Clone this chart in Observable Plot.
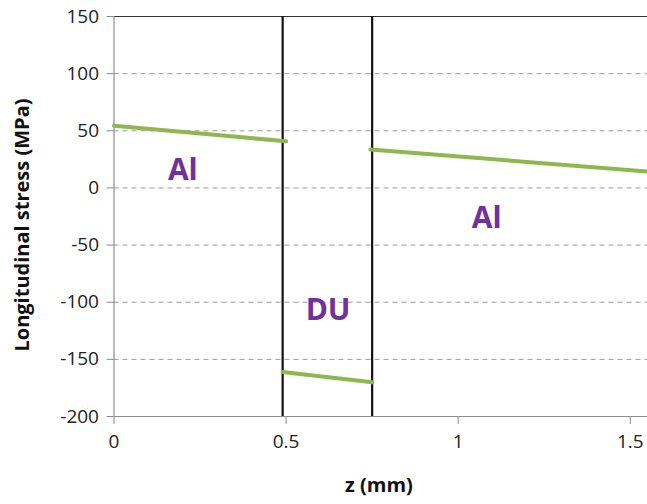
<!DOCTYPE html>
<html>
<head>
<meta charset="utf-8">
<script src="https://cdn.jsdelivr.net/npm/d3@7"></script>
<script src="https://cdn.jsdelivr.net/npm/@observablehq/plot@0.6"></script>
<style>
  html, body { margin: 0; padding: 0; background: #fff; }
  #chart svg { display: block; font-family: "Open Sans", sans-serif; }
  #chart svg [aria-label="y-axis tick"], #chart svg [aria-label="x-axis tick"] { stroke: #8c8c8c; }
</style>
</head>
<body>
<div id="chart"></div>
<script>
// Longitudinal stress through an Al / DU / Al stack, along z (mm)
const al1Z = [0, 0.5];
const al1Stress = [54.5, 40.8];
const duZ = [0.49, 0.75];
const duStress = [-161, -170];
const al2Z = [0.745, 1.55];
const al2Stress = [33.6, 14.4];

// Interfaces between layers
const interfaces = [0.49, 0.75];

// Axis ticks
const yTicks = [150, 100, 50, 0, -50, -100, -150, -200];
const xTicks = [0, 0.5, 1, 1.5];
const xTickLabels = ["0", "0.5", "1", "1.5"];

// Layer names
const layerNames = ["Al", "DU", "Al"];
const layerZ = [0.2, 0.622, 1.083];
const layerStress = [15, -107, -27];

const segments = [
  ...al1Z.map((z, i) => ({z, stress: al1Stress[i], seg: "Al-1"})),
  ...duZ.map((z, i) => ({z, stress: duStress[i], seg: "DU"})),
  ...al2Z.map((z, i) => ({z, stress: al2Stress[i], seg: "Al-2"}))
];
const labels = layerNames.map((name, i) => ({name, z: layerZ[i], stress: layerStress[i]}));
const gridVals = yTicks.filter(v => v !== 150 && v !== -200);

const chart = Plot.plot({
  width: 647,
  height: 504,
  marginLeft: 113.5,
  marginRight: 0,
  marginTop: 16,
  marginBottom: 88,
  style: {fontSize: "19px", fontFamily: "Open Sans, sans-serif", color: "#222"},
  x: {domain: [0, 1.55]},
  y: {domain: [-200, 150]},
  marks: [
    Plot.ruleY(gridVals, {stroke: "#9a9a9a", strokeDasharray: "5,4", strokeWidth: 1}),
    Plot.ruleY([150], {stroke: "#333", strokeWidth: 1.2}),
    Plot.ruleY([-200], {stroke: "#8c8c8c", strokeWidth: 1.2}),
    Plot.ruleX([0], {stroke: "#8c8c8c", strokeWidth: 1.2}),
    Plot.axisY({ticks: yTicks, tickFormat: d => String(d), tickSize: 7, tickPadding: 8, label: null}),
    Plot.axisX({ticks: xTicks, tickFormat: d => xTickLabels[xTicks.indexOf(d)], tickSize: 8, tickPadding: 10, label: null}),
    Plot.ruleX(interfaces, {stroke: "#111", strokeWidth: 2.2}),
    Plot.line(segments, {x: "z", y: "stress", z: "seg", stroke: "#8fb651", strokeWidth: 4}),
    Plot.text(labels, {x: "z", y: "stress", text: "name", fill: "#7030a0", fontWeight: "bold", fontSize: 30})
  ]
});

// Axis titles
const svg = d3.select(chart);
svg.append("text")
  .attr("transform", "translate(24,225) rotate(-90)")
  .attr("text-anchor", "middle")
  .attr("dominant-baseline", "middle")
  .attr("font-weight", "bold")
  .attr("font-size", 20)
  .attr("fill", "#111")
  .text("Longitudinal stress (MPa)");
svg.append("text")
  .attr("x", 379)
  .attr("y", 487)
  .attr("text-anchor", "middle")
  .attr("dominant-baseline", "middle")
  .attr("font-weight", "bold")
  .attr("font-size", 20)
  .attr("fill", "#111")
  .text("z (mm)");

document.getElementById("chart").append(chart);
</script>
</body>
</html>
